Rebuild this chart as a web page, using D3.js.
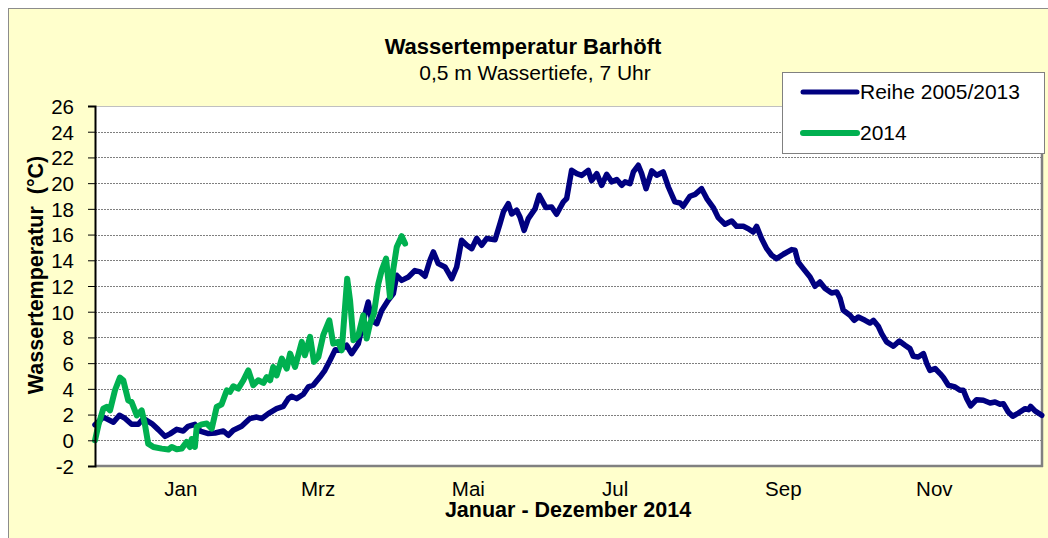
<!DOCTYPE html>
<html>
<head>
<meta charset="utf-8">
<script src="https://cdn.jsdelivr.net/npm/d3@7"></script>
<style>
    body { margin: 0; background: #FFFFFF; }
    text { font-family: "Liberation Sans", Arial, sans-serif; fill: #000; }
    .title { font-size: 22px; font-weight: bold; }
    .subtitle { font-size: 21px; }
    .axisTitle { font-size: 21.5px; font-weight: bold; }
    .tickLabel { font-size: 20.5px; }
    .legendText { font-size: 21px; }
</style>
</head>
<body>
<script>
// day of year (0 = start of axis) and temperature in degrees C
var reiheDays = [0, 3.2, 7.1, 9.4, 11.6, 14.1, 16.7, 18.6, 21.9, 24.4, 27.0, 28.9, 31.5, 34.0, 35.9, 38.5,
    40.5, 43.7, 46.3, 49.5, 51.4, 53.3, 56.5, 59.7, 62.3, 64.3, 66.8, 70.0, 72.6, 74.5, 75.8, 77.7,
    80.3, 82.2, 84.1, 86.7, 88.6, 90.6, 92.6, 94.4, 97.0, 98.9, 101.5, 104.1, 105.3, 106.6, 108.6,
    110.5, 113.0, 115.0, 116.3, 118.2, 120.8, 123.3, 125.3, 127.2, 129.1, 130.4, 132.3, 134.9,
    137.5, 139.4, 141.3, 143.3, 145.2, 147.1, 149.0, 151.0, 154.2, 156.1, 157.4, 159.3, 160.6,
    162.5, 163.8, 165.4, 167.0, 169.6, 171.2, 173.8, 176.0, 177.9, 180.5, 181.8, 183.7, 185.7,
    187.6, 190.1, 191.4, 193.4, 195.3, 197.2, 199.2, 201.1, 203.0, 204.3, 206.2, 207.5, 209.4,
    210.7, 212.4, 214.6, 216.5, 219.0, 221.0, 223.5, 225.5, 226.7, 229.3, 231.3, 233.8, 235.8,
    238.3, 240.2, 242.8, 245.4, 247.3, 249.9, 251.8, 253.7, 255.0, 256.9, 258.9, 260.8, 262.7,
    265.3, 268.5, 269.8, 271.0, 273.0, 275.6, 277.5, 279.4, 281.4, 283.9, 285.9, 287.2, 288.4,
    291.0, 292.6, 294.2, 296.8, 298.7, 300.0, 301.9, 303.2, 305.1, 307.7, 310.0, 312.2, 314.1,
    315.4, 317.3, 319.3, 320.6, 321.8, 323.8, 325.7, 327.0, 328.9, 331.5, 333.4, 334.7, 336.0,
    337.5, 339.8, 342.4, 345.0, 346.9, 348.8, 350.1, 352.0, 353.7, 355.9, 358.5, 359.8, 360.6,
    362.3, 363.6, 364.9];
var reiheTemps = [1.2, 1.8, 1.4, 1.95, 1.7, 1.25, 1.25, 1.7, 1.3, 0.83, 0.3, 0.5, 0.85, 0.72, 1.09, 1.24,
    0.72, 0.52, 0.57, 0.72, 0.39, 0.78, 1.09, 1.69, 1.81, 1.69, 2.07, 2.46, 2.64, 3.24, 3.42, 3.24,
    3.58, 4.15, 4.28, 4.92, 5.44, 6.22, 7.05, 7.0, 7.39, 6.74, 7.52, 9.85, 10.76, 9.33, 9.07,
    10.1, 10.89, 11.41, 12.83, 12.44, 12.7, 13.2, 13.1, 12.76, 14.0, 14.65, 13.74, 13.48,
    12.57, 13.48, 15.56, 15.17, 14.9, 15.7, 15.17, 15.7, 15.6, 16.85, 17.76, 18.4, 17.6,
    17.9, 17.37, 16.33, 17.24, 18.0, 19.06, 18.1, 18.15, 17.58, 18.54, 18.8, 21.0, 20.74,
    20.6, 21.0, 20.2, 20.74, 19.83, 20.69, 20.1, 20.28, 19.83, 20.1, 19.96, 20.87, 21.39,
    20.74, 19.57, 20.95, 20.61, 20.87, 19.7, 18.54, 18.46, 18.2, 18.98, 19.13, 19.57, 18.8,
    18.1, 17.32, 16.8, 17.06, 16.64, 16.64, 16.46, 16.2, 16.64, 15.69, 14.9, 14.39, 14.13,
    14.47, 14.83, 14.78, 13.87, 13.35, 12.7, 11.98, 12.31, 11.8, 11.46, 11.54, 11.02, 10.11,
    9.72, 9.33, 9.59, 9.33, 9.12, 9.33, 8.87, 8.3, 7.65, 7.31, 7.72, 7.39, 7.13,
    6.53, 6.48, 6.74, 5.96, 5.44, 5.58, 5.19, 4.88, 4.28, 4.15, 3.89, 3.89, 3.24,
    2.67, 3.16, 3.11, 2.9, 2.98, 2.8, 2.85, 2.2, 1.87, 2.12, 2.46, 2.38, 2.64,
    2.28, 2.12, 1.94];

var days2014 = [0, 1.3, 3.2, 4.5, 5.8, 7.7, 9.6, 10.9, 12.8, 14.1, 16.1, 18.0, 19.3, 20.5, 22.5, 25.7,
    28.3, 29.6, 31.5, 33.4, 35.3, 36.6, 37.3, 38.5, 39.2, 41.1, 43.1, 45.0, 46.9, 48.8, 50.8,
    52.0, 53.3, 55.2, 57.2, 59.1, 61.0, 62.9, 64.9, 66.2, 67.5, 68.7, 70.0, 72.0, 73.9, 75.2,
    77.1, 79.7, 80.9, 82.9, 84.4, 86.1, 88.0, 90.3, 91.8, 93.8, 95.1, 97.2, 98.3, 99.6, 101.5,
    103.4, 104.7, 106.0, 107.5, 109.2, 110.5, 112.2, 113.7, 115.0, 116.3, 118.2, 119.5];
var temps2014 = [0, 1.17, 2.46, 2.6, 2.33, 3.89, 4.88, 4.67, 3.11, 2.98, 1.94, 2.33, 1.17, -0.26, -0.52, -0.65,
    -0.72, -0.52, -0.7, -0.65, -0.13, -0.52, 0.1, -0.52, 1.04, 1.24, 1.3, 0.91, 2.59, 2.8, 3.89,
    3.76, 4.2, 4.02, 4.67, 5.44, 4.28, 4.67, 4.46, 4.92, 4.67, 5.7, 5.05, 6.35, 5.57, 6.74,
    5.7, 7.65, 6.61, 8.04, 6.1, 6.48, 8.2, 9.33, 7.52, 7.65, 7.0, 12.57, 10.89, 7.78, 8.17,
    9.72, 7.91, 9.07, 9.85, 12.18, 13.22, 14.13, 11.15, 13.35, 15.03, 15.87, 15.3];

var seriesNames = ["Reihe 2005/2013", "2014"];
var seriesColors = ["#000080", "#00B050"];

// x axis month labels and the day they sit on
var monthLabels = ["Jan", "Mrz", "Mai", "Jul", "Sep", "Nov"];
var monthDays = [33.1, 86.0, 143.9, 200.5, 265.3, 323.5];
var yTicks = [-2, 0, 2, 4, 6, 8, 10, 12, 14, 16, 18, 20, 22, 24, 26];

window.onload = function(){
    var width = 1048, height = 538;
    var plotLeft = 95, plotRight = 1042, plotTop = 106, plotBottom = 466;

    var svg = d3.select("body")
        .append("svg")
        .attr("width", width)
        .attr("height", height);

    //chart background with frame
    svg.append("rect")
        .attr("x", 8.5)
        .attr("y", 8.5)
        .attr("width", width)
        .attr("height", height)
        .style("fill", "#FFFFCC")
        .style("stroke", "#8C8C8C")
        .style("stroke-width", 1);

    var x = d3.scaleLinear()
        .domain([0, 365])
        .range([plotLeft, plotRight]);

    var y = d3.scaleLinear()
        .domain([-2, 26])
        .range([plotBottom, plotTop]);

    //plot area
    svg.append("rect")
        .attr("x", plotLeft)
        .attr("y", plotTop)
        .attr("width", plotRight - plotLeft)
        .attr("height", plotBottom - plotTop)
        .style("fill", "#FFFFFF")
        .style("stroke", "none");

    //dotted grid lines
    svg.selectAll(".grid")
        .data(yTicks.filter(function(d){ return d > -2 && d < 26; }))
        .enter()
        .append("line")
        .attr("class", "grid")
        .attr("x1", plotLeft)
        .attr("x2", plotRight)
        .attr("y1", function(d){ return Math.round(y(d)) + 0.5; })
        .attr("y2", function(d){ return Math.round(y(d)) + 0.5; })
        .style("stroke", "#7F7F7F")
        .style("stroke-dasharray", "2,1")
        .style("stroke-width", 1);

    //plot border: top light, right and bottom gray
    svg.append("line")
        .attr("x1", plotLeft).attr("x2", plotRight)
        .attr("y1", plotTop + 0.5).attr("y2", plotTop + 0.5)
        .style("stroke", "#C0C0C0").style("stroke-width", 1);
    svg.append("line")
        .attr("x1", plotRight).attr("x2", plotRight)
        .attr("y1", plotTop).attr("y2", plotBottom + 1)
        .style("stroke", "#808080").style("stroke-width", 2.5);
    svg.append("line")
        .attr("x1", plotLeft).attr("x2", plotRight + 1)
        .attr("y1", plotBottom).attr("y2", plotBottom)
        .style("stroke", "#808080").style("stroke-width", 2.5);

    //lines
    var line = d3.line()
        .x(function(d){ return x(d[0]); })
        .y(function(d){ return y(d[1]); });

    var reihe = d3.zip(reiheDays, reiheTemps);
    var year2014 = d3.zip(days2014, temps2014);

    svg.append("path")
        .datum(reihe)
        .attr("d", line)
        .style("fill", "none")
        .style("stroke", seriesColors[0])
        .style("stroke-width", 5.5)
        .style("stroke-linejoin", "round")
        .style("stroke-linecap", "round");

    svg.append("path")
        .datum(year2014)
        .attr("d", line)
        .style("fill", "none")
        .style("stroke", seriesColors[1])
        .style("stroke-width", 6)
        .style("stroke-linejoin", "round")
        .style("stroke-linecap", "round");

    //y axis
    var yAxis = d3.axisLeft(y)
        .tickValues(yTicks)
        .tickSize(7)
        .tickPadding(14)
        .tickFormat(function(d){ return String(d); }); //plain hyphen for -2

    var axis = svg.append("g")
        .attr("class", "axis")
        .attr("transform", "translate(" + plotLeft + ",0)")
        .call(yAxis);
    axis.select(".domain")
        .style("stroke", "#000")
        .style("stroke-width", 2);
    axis.selectAll(".tick line")
        .style("stroke", "#000");
    axis.selectAll(".tick text")
        .attr("class", "tickLabel")
        .attr("dy", "0.36em")
        .style("font-family", "'Liberation Sans', Arial, sans-serif")
        .style("font-size", "20.5px");

    //x axis month labels
    svg.selectAll(".monthLabel")
        .data(monthLabels)
        .enter()
        .append("text")
        .attr("class", "tickLabel")
        .attr("text-anchor", "middle")
        .attr("x", function(d, i){ return x(monthDays[i]); })
        .attr("y", 496)
        .text(function(d){ return d; });

    //titles
    svg.append("text")
        .attr("class", "title")
        .attr("text-anchor", "middle")
        .attr("x", 523)
        .attr("y", 54)
        .text("Wassertemperatur Barhöft");

    svg.append("text")
        .attr("class", "subtitle")
        .attr("text-anchor", "middle")
        .attr("x", 535)
        .attr("y", 80)
        .text("0,5 m Wassertiefe, 7 Uhr");

    svg.append("text")
        .attr("class", "axisTitle")
        .attr("text-anchor", "middle")
        .attr("x", 568)
        .attr("y", 517)
        .text("Januar - Dezember 2014");

    svg.append("text")
        .attr("class", "axisTitle")
        .attr("text-anchor", "middle")
        .attr("transform", "translate(43,275) rotate(-90)")
        .style("white-space", "pre")
        .attr("xml:space", "preserve")
        .text("Wassertemperatur  (°C)");

    //legend
    var legend = svg.append("g")
        .attr("class", "legend")
        .attr("transform", "translate(782,72)");

    legend.append("rect")
        .attr("x", 0.5)
        .attr("y", 0.5)
        .attr("width", 262)
        .attr("height", 81)
        .style("fill", "#FFFFFF")
        .style("stroke", "#808080");

    var items = legend.selectAll(".item")
        .data(seriesNames)
        .enter()
        .append("g")
        .attr("class", "item")
        .attr("transform", function(d, i){ return "translate(0," + (20 + i * 41) + ")"; });

    items.append("line")
        .attr("x1", 21)
        .attr("x2", 75)
        .attr("y1", 0)
        .attr("y2", 0)
        .style("stroke", function(d, i){ return seriesColors[i]; })
        .style("stroke-width", function(d, i){ return i == 0 ? 5 : 6; })
        .style("stroke-linecap", "round");

    items.append("text")
        .attr("class", "legendText")
        .attr("x", 78)
        .attr("y", 7)
        .text(function(d){ return d; });
};
</script>
</body>
</html>
